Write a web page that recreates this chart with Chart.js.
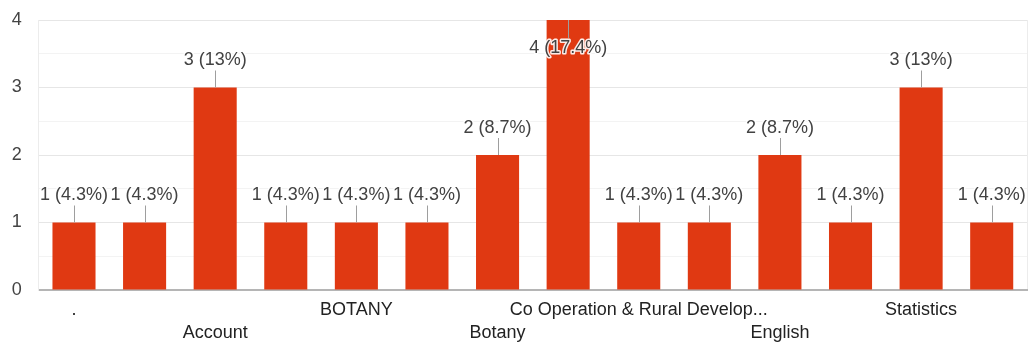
<!DOCTYPE html>
<html>
<head>
<meta charset="utf-8">
<script src="https://cdn.jsdelivr.net/npm/chart.js@4/dist/chart.umd.min.js"></script>
<style>
  html, body { margin: 0; padding: 0; background: #ffffff; }
  #wrap { width: 1035px; height: 346px; position: relative; }
</style>
</head>
<body>
<div id="wrap"><canvas id="c" width="1035" height="346"></canvas></div>
<script>
// Responses per subject (names of the unlabeled columns are not shown on the axis)
const categories = ['.', '', 'Account', '', 'BOTANY', '', 'Botany', '',
  'Co Operation & Rural Development', '', 'English', '', 'Statistics', ''];
const counts = [1, 1, 3, 1, 1, 1, 2, 4, 1, 1, 2, 1, 3, 1];
const yTicks = [0, 1, 2, 3, 4];

const total = counts.reduce((a, b) => a + b, 0);
const FONT = '"Liberation Sans", Arial, sans-serif';

// "count (share%)" with one decimal, dropping a trailing ".0"
function pctLabel(v) {
  const txt = (v / total * 100).toFixed(1).replace(/\.0$/, '');
  return v + ' (' + txt + '%)';
}

function shorten(name) {
  return name.length > 28 ? name.slice(0, 28) + '...' : name;
}

// Value labels above each bar with a short leader line; placed inside when no room above
const barLabels = {
  id: 'barLabels',
  afterDatasetsDraw(chart) {
    const ctx = chart.ctx;
    const area = chart.chartArea;
    const meta = chart.getDatasetMeta(0);
    ctx.save();
    ctx.font = '18px ' + FONT;
    ctx.textAlign = 'center';
    ctx.textBaseline = 'middle';
    meta.data.forEach((bar, i) => {
      const x = bar.x, top = bar.y;
      let textY, l1, l2;
      if (top - 37 >= area.top - 4) {
        textY = top - 27; l1 = top - 17; l2 = top;
      } else {
        textY = top + 28; l1 = top; l2 = top + 18;
      }
      ctx.strokeStyle = '#9e9e9e';
      ctx.lineWidth = 1;
      ctx.beginPath();
      ctx.moveTo(Math.round(x) + 0.5, l1);
      ctx.lineTo(Math.round(x) + 0.5, l2);
      ctx.stroke();
      const label = pctLabel(counts[i]);
      ctx.lineJoin = 'round';
      ctx.strokeStyle = 'rgba(255,255,255,0.9)';
      ctx.lineWidth = 3;
      ctx.strokeText(label, x, textY);
      ctx.fillStyle = '#424242';
      ctx.fillText(label, x, textY);
    });
    ctx.restore();
  }
};

new Chart(document.getElementById('c'), {
  type: 'bar',
  data: {
    labels: categories,
    datasets: [{
      data: counts,
      backgroundColor: '#e03912',
      borderWidth: 0,
      categoryPercentage: 1,
      barPercentage: 0.61
    }]
  },
  options: {
    responsive: false,
    animation: false,
    devicePixelRatio: 1,
    layout: { padding: { left: 0, right: 8, top: 20, bottom: 0 } },
    plugins: { legend: { display: false }, tooltip: { enabled: false } },
    scales: {
      x: {
        offset: true,
        grid: {
          offset: true,
          drawTicks: false,
          color: (c) => (c.type !== 'tick' || c.index === 0) ? '#ececec' : 'rgba(0,0,0,0)'
        },
        border: { display: true, color: '#b5b5b5', width: 2 },
        ticks: {
          autoSkip: false,
          maxRotation: 0,
          minRotation: 0,
          padding: 8.5,
          color: '#222222',
          font: { family: FONT, size: 18, lineHeight: 1.28 },
          callback: function (value, index) {
            if (index % 2 === 1) return '';
            const name = shorten(categories[index]);
            return (index / 2) % 2 === 1 ? ['', name] : name;
          }
        },
        afterFit: (scale) => { scale.height = 56; }
      },
      y: {
        min: yTicks[0],
        max: yTicks[yTicks.length - 1],
        grid: {
          drawTicks: false,
          color: (c) => {
            const v = c.tick ? c.tick.value : null;
            if (v === 0) return 'rgba(0,0,0,0)';
            return Number.isInteger(v) ? '#e6e6e6' : '#f3f3f3';
          }
        },
        border: { display: true, color: '#ececec' },
        ticks: {
          stepSize: 0.5,
          padding: 17,
          color: '#444444',
          font: { family: FONT, size: 18 },
          callback: (v) => yTicks.includes(v) ? String(v) : ''
        },
        afterFit: (scale) => {
          scale.width = 38.7;
          scale.paddingTop = 0;
          scale.paddingBottom = 0;
        }
      }
    }
  },
  plugins: [barLabels]
});
</script>
</body>
</html>
